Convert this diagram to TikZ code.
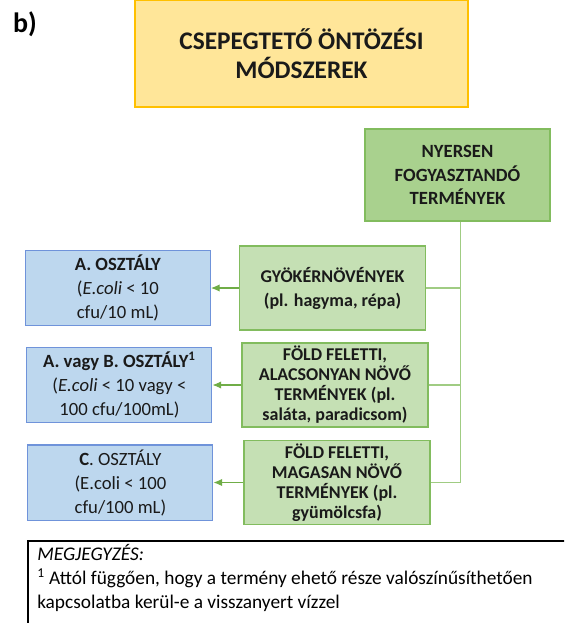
\documentclass[tikz,border=0pt]{standalone}
\usepackage{fontspec}
\setmainfont{Carlito}
\usetikzlibrary{arrows.meta}
\usetikzlibrary{positioning}
\definecolor{ce-title}{HTML}{FFE699}
\definecolor{ce-titleline}{HTML}{FFC000}
\definecolor{ce-green}{HTML}{A9D18E}
\definecolor{ce-greenline}{HTML}{82BC5E}
\definecolor{ce-lightgreen}{HTML}{C5E0B4}
\definecolor{ce-blue}{HTML}{BDD7EE}
\definecolor{ce-blueline}{HTML}{6F93DA}
\definecolor{ce-arrow}{HTML}{70AD47}
\definecolor{ce-text}{HTML}{1A1A1A}

\begin{document}
\begin{tikzpicture}[
    x=0.75pt, y=-0.75pt,
    font=\fontsize{14}{18}\selectfont,
    >={Latex[length=6.5pt,width=5.5pt]}
  ]

  % Styles for the boxes
  \tikzset{
    titlebox/.style={draw=ce-titleline, line width=1.1pt, fill=ce-title, minimum width=249.75pt, minimum height=80.25pt, text=ce-text, align=center, font=\fontsize{19}{22}\selectfont\bfseries},
    cropbox/.style={draw=ce-greenline, line width=0.8pt, fill=ce-green, minimum width=138.75pt, minimum height=69pt, text=ce-text, align=center, font=\fontsize{14}{17.5}\selectfont\bfseries},
    groupbox/.style={draw=ce-greenline, line width=0.8pt, fill=ce-lightgreen, minimum width=139.5pt, minimum height=63pt, inner sep=1.5pt, text=ce-text, align=center, font=\fontsize{13.5}{15}\selectfont\bfseries},
    classbox/.style={draw=ce-blueline, line width=0.8pt, fill=ce-blue, minimum width=138.75pt, minimum height=55.5pt, text=ce-text, align=center, font=\fontsize{14}{18}\selectfont},
    tree/.style={draw=ce-green!85!ce-arrow, line width=1.2pt},
    feed/.style={->, draw=ce-arrow, line width=0.8pt}
  }

  \clip (0,0) rectangle (564,623);

  % Heading
  \node (label) [font=\fontsize{21}{24}\selectfont\bfseries] at (25,24) {b)};
  \node (title) [titlebox] at (301.5,53.5) {CSEPEGTETŐ ÖNTÖZÉSI\\MÓDSZEREK};

  % Crop groups
  \node (nyersen)  [cropbox]  at (457.5,175) {NYERSEN\\FOGYASZTANDÓ\\TERMÉNYEK};
  \node (gyoker)   [groupbox, font=\fontsize{13.5}{18}\selectfont\bfseries] at (332.5,288) {GYÖKÉRNÖVÉNYEK\\(pl. hagyma, répa)};
  \node (foldlow)  [groupbox] at (335,385) {FÖLD FELETTI,\\ALACSONYAN NÖVŐ\\TERMÉNYEK (pl.\\saláta, paradicsom)};
  \node (foldhigh) [groupbox] at (337,482.5) {FÖLD FELETTI,\\MAGASAN NÖVŐ\\TERMÉNYEK (pl.\\gyümölcsfa)};

  % Water quality classes
  \node (classA)  [classbox, left=21pt of gyoker] {\textbf{A. OSZTÁLY}\\(\textit{E.coli} < 10\\cfu/10 mL)};
  \node (classAB) [classbox, left=21.75pt of foldlow] {\textbf{A. vagy B. OSZTÁLY\textsuperscript{1}}\\(\textit{E.coli} < 10 vagy <\\100 cfu/100mL)};
  \node (classC)  [classbox, left=22.5pt of foldhigh] {\textbf{C}. OSZTÁLY\\(E.coli < 100\\cfu/100 mL)};

  % Tree from the crop group
  \coordinate (trunk) at ([xshift=2.25pt]nyersen.south);
  \draw[tree] (trunk) |- (foldhigh.east);
  \draw[tree] (gyoker.east) -- (gyoker.east -| trunk);
  \draw[tree] (foldlow.east) -- (foldlow.east -| trunk);

  % Arrows to the classes
  \draw[feed] (gyoker) -- (classA);
  \draw[feed] (foldlow.west) -- (foldlow.west -| classAB.east);
  \draw[feed] (foldhigh.west) -- (foldhigh.west -| classC.east);

  % Note
  \draw[line width=1.1pt] (700,541) -- (28,541) -- (28,700);
  \node (note) [anchor=north west, align=left, inner sep=0pt, font=\fontsize{14.5}{18}\selectfont] at (37,544)
    {\textit{MEGJEGYZÉS:}\\\textsuperscript{1} Attól függően, hogy a termény ehető része valószínűsíthetően\\kapcsolatba kerül-e a visszanyert vízzel};

\end{tikzpicture}
\end{document}
